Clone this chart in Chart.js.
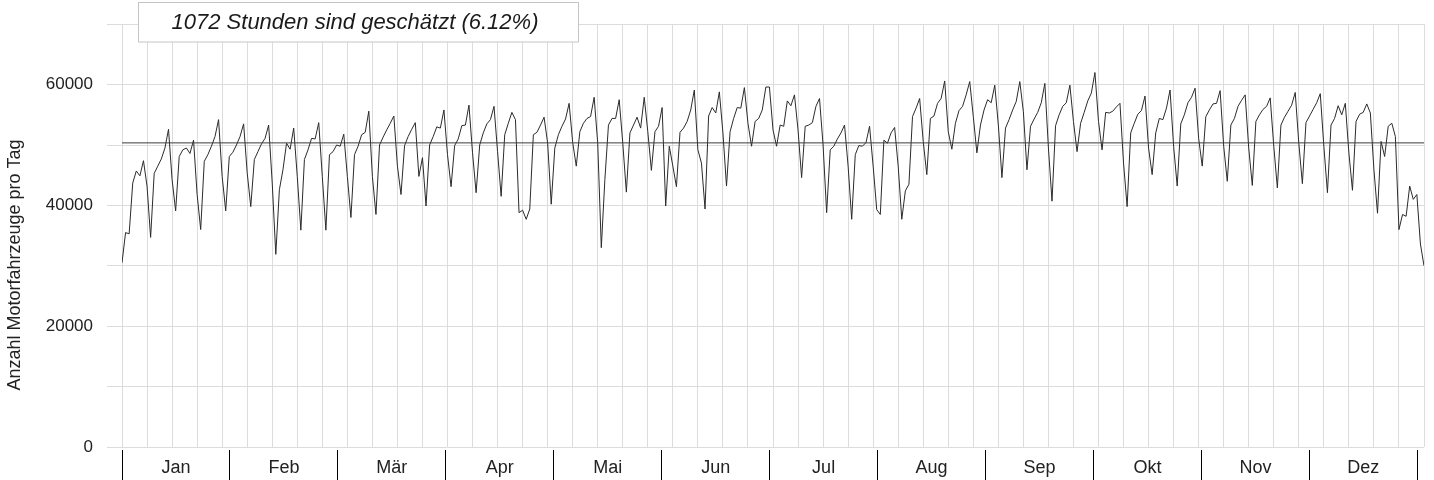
<!DOCTYPE html>
<html>
<head>
<meta charset="utf-8">
<title>Motorfahrzeuge pro Tag</title>
<script src="https://cdn.jsdelivr.net/npm/chart.js@4"></script>
<style>
  html, body { margin: 0; padding: 0; background: #fff; }
  #wrap { width: 1434px; height: 480px; }
</style>
</head>
<body>
<div id="wrap"><canvas id="chart" width="1434" height="480"></canvas></div>
<script>
// Tageswerte 2011 (Motorfahrzeuge pro Tag)
const jan = [30500, 35500, 35300, 43700, 45700, 44900, 47400, 43200, 34700, 45300, 46500, 47700, 49500, 52600, 44300, 39100,
             48100, 49200, 49500, 48600, 50800, 41800, 36000, 47300, 48400, 49800, 51400, 54200, 44800, 39100, 48100];
const feb = [48800, 50000, 51400, 53500, 45400, 39800, 47600, 48900, 50200, 51100, 53300, 43700, 31900, 42600,
             45900, 50300, 49300, 52800, 44800, 35900, 47600, 49200, 51100, 51000, 53700, 44800, 35900, 48400];
const mar = [48900, 50000, 49800, 51800, 44800, 38000, 48400, 49800, 51700, 52100, 55600, 44800, 38500, 50000, 51300, 52500,
             53600, 54800, 46500, 41800, 49900, 51400, 52600, 53700, 44800, 47900, 39900, 50000, 51400, 53000, 52800];
const apr = [55800, 48400, 43100, 49900, 51000, 53200, 53300, 56600, 48700, 42100, 50000, 52000, 53500, 54200, 56400,
             48900, 41500, 51700, 53600, 55400, 54200, 38800, 39200, 37700, 39400, 51700, 52100, 53300, 54600, 50300];
const mai = [40200, 49500, 51700, 53100, 54300, 56900, 50400, 46500, 52200, 53600, 54400, 54700, 57900, 50300, 33000, 44300,
             53300, 54400, 54400, 57500, 50300, 42200, 52000, 53300, 54600, 52800, 57900, 52200, 45800, 52200, 53100];
const jun = [56200, 39900, 49800, 46500, 43100, 52100, 52800, 53900, 55800, 59100, 49200, 47000, 39400, 54800, 56200,
             55300, 58800, 52000, 43200, 52200, 54400, 56200, 56100, 59500, 53600, 49800, 53900, 54400, 55800, 59600];
const jul = [59600, 52500, 49800, 53300, 53100, 57300, 56500, 58300, 52500, 44600, 53100, 53300, 53700, 56400, 57700, 50000,
             38800, 49200, 49800, 51000, 52000, 53300, 46500, 37700, 48400, 49900, 49800, 50400, 53100, 46500, 39300];
const aug = [38500, 50800, 50300, 52000, 52900, 46500, 37700, 42400, 43500, 54700, 56100, 57700, 50600, 45100, 54400, 54800,
             56900, 57700, 60600, 52200, 49300, 53600, 55700, 56400, 58300, 60500, 54700, 48700, 53300, 55800, 57500];
const sep = [57000, 59900, 53300, 44600, 52800, 54200, 55800, 57200, 60500, 55500, 45900, 53100, 54300, 55400, 57000,
             60200, 49500, 40700, 53200, 55000, 56400, 57000, 59900, 53900, 48900, 53600, 55400, 57300, 58600, 62000];
const okt = [53900, 49200, 55400, 55300, 55600, 56300, 56900, 47000, 39800, 52000, 53600, 55100, 55700, 58100, 49500, 45100,
             52000, 54400, 54200, 56100, 59100, 49800, 43200, 53500, 55000, 57000, 57900, 59400, 51100, 46500, 54700];
const nov = [55800, 56800, 56900, 59000, 49800, 44000, 53300, 54400, 56400, 57400, 58300, 49500, 43300, 53900, 55000,
             55900, 56400, 57800, 49800, 42900, 53300, 54600, 55600, 56600, 58700, 50300, 43600, 53700, 54800, 55900];
const dez = [57000, 58500, 49800, 42100, 53300, 54400, 56500, 55000, 56900, 48700, 42500, 53900, 55100, 55400, 56800, 55300,
             45900, 38700, 50600, 48100, 53100, 53600, 51400, 36000, 38500, 38200, 43200, 41000, 41800, 33600, 30000];

const dailyValues = [].concat(jan, feb, mar, apr, mai, jun, jul, aug, sep, okt, nov, dez);
const meanValue = 50350;

const monthLabels = ['Jan', 'Feb', 'Mär', 'Apr', 'Mai', 'Jun', 'Jul', 'Aug', 'Sep', 'Okt', 'Nov', 'Dez'];
const yTickLabels = ['0', '20000', '40000', '60000'];
const titleText = '1072 Stunden sind geschätzt (6.12%)';
const yTitle = 'Anzahl Motorfahrzeuge pro Tag';

const lastDay = dailyValues.length - 1;

// Wochenraster (jeweils Samstag) und Monatsstriche
const weekTicks = [];
for (let d = 0; d <= lastDay; d += 7) weekTicks.push(d);
const monthTicks = [];
for (let m = 0; m <= 24; m++) monthTicks.push(m / 2);
const monthMax = 12 * 1302 / 1295.3;

Chart.defaults.font.family = '"Liberation Sans", Arial, sans-serif';
Chart.defaults.color = '#222';

const gridColor = '#dcdcdc';

// Kasten oben mit Hinweis und die Achsenbeschriftung links
const textBits = {
    id: 'textBits',
    afterDraw(chart) {
        const ctx = chart.ctx;
        ctx.save();
        ctx.fillStyle = '#fff';
        ctx.fillRect(138.5, 2.5, 440, 39.5);
        ctx.strokeStyle = '#c4c4c4';
        ctx.lineWidth = 1;
        ctx.strokeRect(138.5, 2.5, 440, 39.5);
        ctx.font = 'italic 22px "Liberation Sans", Arial, sans-serif';
        ctx.fillStyle = '#1a1a1a';
        ctx.textAlign = 'center';
        ctx.textBaseline = 'middle';
        ctx.fillText(titleText, 355, 23);

        ctx.translate(15, 265);
        ctx.rotate(-Math.PI / 2);
        ctx.font = '18px "Liberation Sans", Arial, sans-serif';
        ctx.fillStyle = '#222';
        ctx.fillText(yTitle, 0, 0);
        ctx.restore();
    }
};

new Chart(document.getElementById('chart'), {
    type: 'line',
    data: {
        datasets: [
            {
                data: dailyValues.map((v, i) => ({ x: i, y: v })),
                borderColor: '#2b2b2b',
                borderWidth: 1,
                pointRadius: 0,
                tension: 0,
                order: 1
            },
            {
                data: [{ x: 0, y: meanValue }, { x: lastDay, y: meanValue }],
                borderColor: '#3c3c3c',
                borderWidth: 1,
                pointRadius: 0,
                order: 0
            }
        ]
    },
    options: {
        responsive: false,
        animation: false,
        layout: { padding: { top: 23, right: 10, left: 0, bottom: 0 } },
        plugins: {
            legend: { display: false },
            tooltip: { enabled: false }
        },
        scales: {
            x: {
                type: 'linear',
                position: 'bottom',
                weight: 0,
                min: 0,
                max: lastDay,
                afterBuildTicks: s => { s.ticks = weekTicks.map(v => ({ value: v })); },
                afterFit: s => { s.height = 3; },
                ticks: { display: false },
                grid: { color: gridColor, drawTicks: false },
                border: { display: false }
            },
            months: {
                type: 'linear',
                position: 'bottom',
                weight: 1,
                min: 0,
                max: monthMax,
                afterBuildTicks: s => { s.ticks = monthTicks.map(v => ({ value: v })); },
                afterFit: s => { s.height = 30; },
                ticks: {
                    autoSkip: false,
                    maxRotation: 0,
                    padding: -23,
                    font: { size: 18 },
                    color: '#222',
                    callback: v => Number.isInteger(v) ? '' : monthLabels[Math.floor(v)]
                },
                grid: {
                    drawOnChartArea: false,
                    tickLength: 30,
                    lineWidth: 1,
                    color: c => (c.tick && Number.isInteger(c.tick.value)) ? '#000' : 'rgba(0,0,0,0)'
                },
                border: { display: false }
            },
            y: {
                min: 0,
                max: 70000,
                afterFit: s => { s.width = 122; },
                ticks: {
                    stepSize: 10000,
                    padding: 14,
                    font: { size: 17 },
                    color: '#222',
                    callback: v => yTickLabels.includes(String(v)) ? String(v) : ''
                },
                grid: { color: gridColor, tickLength: 15 },
                border: { display: false }
            }
        }
    },
    plugins: [textBits]
});
</script>
</body>
</html>
